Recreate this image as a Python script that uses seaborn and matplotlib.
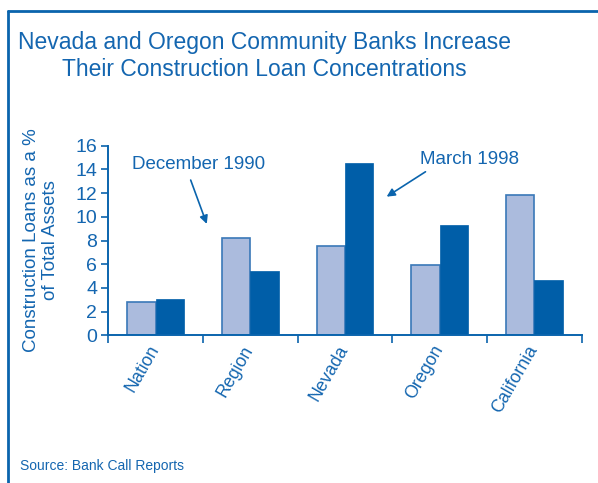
import matplotlib
matplotlib.use("Agg")
import matplotlib.pyplot as plt
import matplotlib.transforms as mtransforms
import seaborn as sns
import pandas as pd
from matplotlib.lines import Line2D

categories = ["Nation", "Region", "Nevada", "Oregon", "California"]
series = ["December 1990", "March 1998"]
dec_1990 = [2.8, 8.25, 7.5, 5.9, 11.8]
mar_1998 = [3.1, 5.4, 14.5, 9.3, 4.65]
yticks = [0, 2, 4, 6, 8, 10, 12, 14, 16]

BLUE = "#0a64ad"
TEXT = "#1466b0"
LIGHT = "#abbbdd"
DARK = "#005ea8"

sns.set_theme(style="white")
plt.rcParams["font.family"] = ["Liberation Sans", "DejaVu Sans"]

df = pd.DataFrame({
    "category": categories * 2,
    "series": [series[0]] * len(categories) + [series[1]] * len(categories),
    "value": dec_1990 + mar_1998,
})

fig = plt.figure(figsize=(5.98, 4.83), dpi=100)
ax = fig.add_axes([108.3 / 598, 1 - 335.3 / 483, (581.7 - 108.3) / 598, (335.3 - 145.7) / 483])

sns.barplot(data=df, x="category", y="value", hue="series", order=categories,
            hue_order=series, palette=[LIGHT, DARK], width=0.6, dodge=True,
            saturation=1, legend=False, ax=ax, linewidth=0)

for i, patch in enumerate(ax.patches):
    if i < len(categories):
        patch.set_edgecolor("#3a78b8")
        patch.set_linewidth(1.2)
    else:
        patch.set_edgecolor(DARK)
        patch.set_linewidth(0.5)

ax.set_xlim(-0.5, 4.5)
ax.set_ylim(0, 16)
ax.set_yticks(yticks)
ax.set_yticklabels([str(t) for t in yticks], fontsize=14, color=TEXT)
ax.set_xticks([-0.5, 0.5, 1.5, 2.5, 3.5, 4.5])
ax.set_xticklabels([])
ax.tick_params(axis="x", which="major", length=6, width=1.2, color=BLUE, direction="out", bottom=True)
ax.tick_params(axis="y", length=5, width=1.2, color=BLUE, direction="out", left=True, pad=3)

# category labels, rotated, anchored a little left of each category centre
label_tr = ax.get_xaxis_transform() + mtransforms.ScaledTranslation(-0.08, -0.07, fig.dpi_scale_trans)
for i, name in enumerate(categories):
    ax.text(i, 0, name, transform=label_tr, rotation=60, rotation_mode="anchor",
            ha="right", va="top", fontsize=12.8, color=TEXT, clip_on=False)

sns.despine(ax=ax)
for s in ["left", "bottom"]:
    ax.spines[s].set_color(BLUE)
    ax.spines[s].set_linewidth(1.4)

ax.set_xlabel("")
ax.set_ylabel("Construction Loans as a %\nof Total Assets", fontsize=13.5, color=TEXT,
              linespacing=1.1, labelpad=12)

ax.text(0.45, 14.4, "December 1990", fontsize=13.5, color=TEXT, ha="center", va="center")
ax.annotate("", xy=(0.54, 9.4), xytext=(0.37, 13.1),
            arrowprops=dict(arrowstyle="-|>", color=BLUE, lw=1.2, mutation_scale=12,
                            shrinkA=0, shrinkB=0))
ax.text(3.32, 14.85, "March 1998", fontsize=13.5, color=TEXT, ha="center", va="center")
ax.annotate("", xy=(2.44, 11.7), xytext=(2.85, 13.8),
            arrowprops=dict(arrowstyle="-|>", color=BLUE, lw=1.2, mutation_scale=12,
                            shrinkA=0, shrinkB=0))

fig.text(264 / 598, 1 - 56 / 483, "Nevada and Oregon Community Banks Increase\nTheir Construction Loan Concentrations",
         ha="center", va="center", fontsize=16.5, color=TEXT, linespacing=1.25)
fig.text(20 / 598, 1 - 466 / 483, "Source: Bank Call Reports", fontsize=10, color=TEXT,
         ha="left", va="center")

fig.add_artist(Line2D([7.5 / 598, 1.0], [1 - 10.5 / 483, 1 - 10.5 / 483], color=BLUE, lw=2,
                      transform=fig.transFigure))
fig.add_artist(Line2D([7.5 / 598, 7.5 / 598], [0, 1 - 10.5 / 483], color=BLUE, lw=2,
                      transform=fig.transFigure))

fig.savefig("out.png", dpi=100)
